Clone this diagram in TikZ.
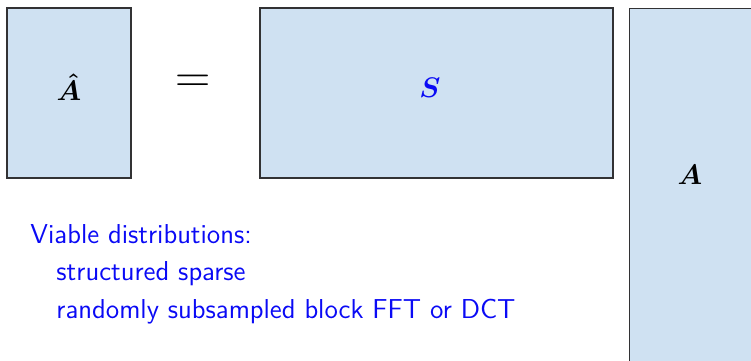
\documentclass[tikz,border=0pt]{standalone}
\usepackage{amsmath}
\usepackage{amssymb}
\usepackage{tikz}
\usetikzlibrary{
  positioning,
  shadows
}
\definecolor{MatFill}{RGB}{207,225,242}
\definecolor{MatEdge}{RGB}{50,50,52}
\definecolor{TextBlue}{RGB}{10,10,245}
\tikzset{
  matbox/.style={draw=MatEdge,fill=MatFill,line width=0.55pt,inner sep=0pt,
    drop shadow={shadow xshift=0pt,shadow yshift=-0.6pt,opacity=0.35}},
  matlabel/.style={font=\large,inner sep=0pt},
  itemtext/.style={anchor=base west,inner sep=0pt,text=TextBlue,font=\fontsize{11.6}{14}\sffamily}
}

\begin{document}
\begin{tikzpicture}[x=0.424pt,y=-0.424pt]
\useasboundingbox (0,0) rectangle (751,361);
\clip (0,0) rectangle (751,361);
% the three matrices
\node[matbox, minimum width=124*0.424pt, minimum height=170*0.424pt] (mhat) at (69,93) {};
\node[matbox, minimum width=353*0.424pt, minimum height=170*0.424pt] (msketch) at (436.5,93) {};
\node[matbox, minimum width=131*0.424pt, minimum height=362*0.424pt, anchor=north west] (mbig) at (629,8) {};
\node[matlabel] (lhat) at (69,87) {$\boldsymbol{\hat{A}}$};
\node[matlabel, text=TextBlue] (lsketch) at (430,88) {$\boldsymbol{S}$};
\node[matlabel] (lbig) at (690,175) {$\boldsymbol{A}$};
\node[font=\huge, inner sep=0pt] (eq) at (193,84) {$=$};
% distributions
\node[itemtext] (via) at (30,243) {Viable distributions:};
\node[itemtext] (sps) at (56,280) {structured sparse};
\node[itemtext] (fft) at (56,318) {randomly subsampled block FFT or DCT};
\end{tikzpicture}
\end{document}
